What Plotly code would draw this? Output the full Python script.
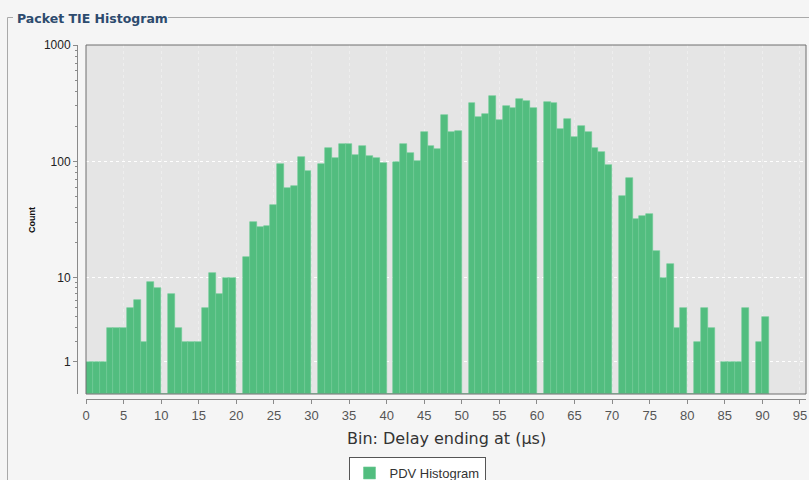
import math
import plotly.graph_objects as go

# Histogram bins: 100 bins, each 10/11 µs wide, starting at 0 µs
BIN_WIDTH = 10 / 11
counts = [
    1, 1, 1, 3, 3, 3, 5, 6, 2, 9, 8,
    0, 7, 3, 2, 2, 2, 5, 11, 7, 10, 10,
    0, 15, 30, 27, 28, 42, 95, 59, 61, 110, 82,
    0, 95, 131, 107, 140, 140, 113, 136, 111, 107, 97,
    0, 98, 141, 118, 101, 178, 136, 127, 250, 180, 182,
    0, 316, 239, 254, 365, 227, 299, 286, 342, 333, 290,
    0, 326, 316, 189, 231, 163, 203, 177, 130, 120, 93,
    0, 50, 72, 32, 34, 35, 17, 10, 13, 3, 5,
    0, 2, 5, 3, 0, 1, 1, 1, 5, 0, 2, 4,
]
bin_start = [i * BIN_WIDTH for i in range(len(counts))]
bin_end = [s + BIN_WIDTH for s in bin_start]

y_major = [1, 10, 100, 1000]
y_minor = [m * d for d in (1, 10, 100) for m in range(2, 10)]
x_ticks = list(range(0, 100, 5))


def adj_log10(v):
    """Log axis that stays finite near zero: values below 10 are
    shifted as v + (10 - v) / 10 before taking log10."""
    if v < 10:
        v = v + (10 - v) / 10
    return math.log10(v)


# page geometry (pixels)
W, H = 809, 480
ML, MR, MT, MB = 77, 3, 45, 81
PW, PH = W - ML - MR, H - MT - MB
PLOT_LEFT, PLOT_BOTTOM = 86, 394


def fx(px):
    return (px - ML) / PW


def fy(py):
    return (H - MB - py) / PH


GREEN = "#52bd7f"
UI_FONT = "DejaVu Sans, Verdana, sans-serif"

fig = go.Figure()
fig.add_trace(go.Bar(
    x=[(a + b) / 2 for a, b in zip(bin_start, bin_end)],
    y=[adj_log10(c) for c in counts],
    width=[b - a for a, b in zip(bin_start, bin_end)],
    customdata=counts,
    hovertemplate="Delay ending at %{x:.2f} µs<br>Count: %{customdata}<extra></extra>",
    marker=dict(color=GREEN, line=dict(color="#6fcb96", width=0.6)),
    name="PDV Histogram",
    showlegend=True,
))

axis_color = "#8a8a8a"
fig.update_layout(
    width=W, height=H,
    margin=dict(l=ML, r=MR, t=MT, b=MB, pad=0, autoexpand=False),
    paper_bgcolor="#f5f5f5",
    plot_bgcolor="#e5e5e5",
    bargap=0,
    font=dict(family="Liberation Sans, Arial, sans-serif", color="#333333"),
    xaxis=dict(
        domain=[fx(PLOT_LEFT), 1],
        anchor="free", position=0,
        range=[0, 95.8],
        tickvals=x_ticks,
        ticktext=[str(t) for t in x_ticks],
        tickfont=dict(size=13, color="#555555"),
        ticks="outside", ticklen=4, tickcolor=axis_color,
        showline=True, linecolor=axis_color, linewidth=1,
        showgrid=True, gridcolor="rgba(255,255,255,0.35)", griddash="dot", gridwidth=1,
        zeroline=False,
    ),
    yaxis=dict(
        domain=[fy(PLOT_BOTTOM), 1],
        anchor="free", position=0,
        range=[0, 3],
        tickvals=[adj_log10(v) for v in y_major],
        ticktext=[str(v) for v in y_major],
        tickfont=dict(size=12, color="#222222"),
        ticks="outside", ticklen=4, tickcolor=axis_color,
        minor=dict(tickvals=[adj_log10(v) for v in y_minor],
                   ticks="outside", ticklen=2, tickcolor=axis_color, showgrid=False),
        showline=True, linecolor=axis_color, linewidth=1,
        showgrid=True, gridcolor="white", griddash="dot", gridwidth=1,
        zeroline=False,
    ),
    legend=dict(
        orientation="h",
        x=417 / W, xref="container", xanchor="center",
        y=(H - 457) / H, yref="container", yanchor="top",
        bgcolor="white", bordercolor="#555555", borderwidth=1,
        font=dict(size=13, color="#333333"),
        itemwidth=30,
    ),
)

# plot outline
fig.add_shape(type="rect", xref="x domain", yref="y domain",
              x0=0, x1=1, y0=0, y1=1, line=dict(color="#6e6e6e", width=1))

# titled panel border
border = dict(color="#a9a9a9", width=1)
fig.add_shape(type="line", xref="paper", yref="paper",
              x0=fx(7.5), x1=fx(7.5), y0=fy(17.5), y1=fy(485), line=border)
fig.add_shape(type="line", xref="paper", yref="paper",
              x0=fx(7.5), x1=fx(13), y0=fy(17.5), y1=fy(17.5), line=border)
fig.add_shape(type="line", xref="paper", yref="paper",
              x0=fx(168), x1=fx(812), y0=fy(17.5), y1=fy(17.5), line=border)

fig.add_annotation(
    text="<b>Packet TIE Histogram</b>", xref="paper", yref="paper",
    x=fx(15), y=fy(19), xanchor="left", yanchor="middle", showarrow=False,
    font=dict(size=12.5, color="#2d4b6e", family=UI_FONT),
)
fig.add_annotation(
    text="<b>Count</b>", xref="paper", yref="paper",
    x=fx(32), y=fy(220), xanchor="center", yanchor="middle", showarrow=False,
    textangle=-90, font=dict(size=9, color="#111111"),
)
fig.add_annotation(
    text="Bin: Delay ending at (µs)", xref="paper", yref="paper",
    x=fx(446), y=fy(438), xanchor="center", yanchor="middle", showarrow=False,
    font=dict(size=16, color="#333333", family=UI_FONT),
)

fig.write_html("out.html")
